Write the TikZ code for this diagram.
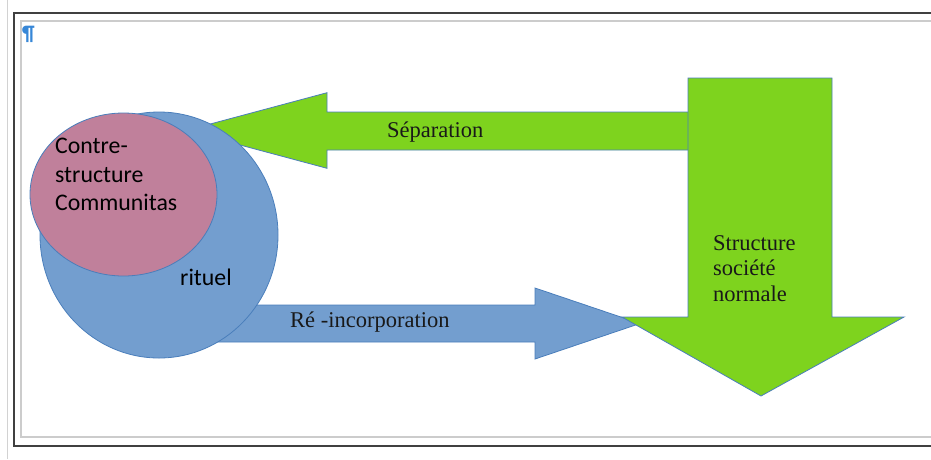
\documentclass[tikz,border=0pt]{standalone}
\usepackage{fontspec}
\setmainfont{Liberation Serif}
\newfontfamily\calib{Carlito}

\definecolor{leafgreen}{RGB}{126,211,30}
\definecolor{ritblue}{RGB}{115,158,207}
\definecolor{compink}{RGB}{192,128,155}
\definecolor{edgeblue}{RGB}{74,126,187}
\definecolor{markblue}{RGB}{55,135,215}

\begin{document}
\begin{tikzpicture}[x=1pt, y=-1pt,
    shapeline/.style={draw=edgeblue, line width=0.8pt, line join=miter},
    sanslbl/.style={inner sep=0pt, font=\calib\fontsize{23.8}{28.5}\selectfont, text=black},
    seriflbl/.style={inner sep=0pt, font=\fontsize{22.5}{25.5}\selectfont, text=black!90}]
  \useasboundingbox (0,0) rectangle (931,459);
  \clip (0,0) rectangle (931,459);
  % frames
  \draw[gray!35, line width=1.2pt] (7.5,0) -- (7.5,459);
  \draw[black!75, line width=2pt] (940,12.5) -- (14,12.5) -- (14,446) -- (940,446);
  \draw[gray!40, line width=1.5pt] (940,21) -- (21,21) -- (21,437) -- (940,437);
  \node[inner sep=0pt, font=\calib\bfseries\fontsize{21}{21}\selectfont, text=markblue] (pilcrow) at (28.5,34) {¶};
  % arrows behind the circles
  \fill[ritblue, shapeline] (200,305) -- (535,305) -- (535,288) -- (640,323.5) -- (535,359) -- (535,342) -- (200,342) -- cycle;
  \fill[leafgreen, shapeline] (186,130.5) -- (327,92.7) -- (327,112) -- (700,112) -- (700,150) -- (327,150) -- (327,168.3) -- cycle;
  % rituel and communitas
  \fill[ritblue, shapeline] (159,235) ellipse [x radius=119, y radius=123];
  \fill[compink, shapeline] (123.5,194.5) ellipse [x radius=93.5, y radius=81.5];
  % structure arrow on top
  \fill[leafgreen, shapeline] (688,78) -- (832,78) -- (832,317) -- (904,317) -- (761,396) -- (622,317) -- (688,317) -- cycle;
  % labels
  \node[sanslbl, anchor=north west, align=left] (contre) at (55,138) {Contre-\\structure\\Communitas};
  \node[sanslbl, anchor=base west] (rituel) at (180,285) {rituel};
  \node[seriflbl, anchor=base west] (separation) at (387,137) {Séparation};
  \node[seriflbl, anchor=base west] (reinc) at (290,327) {Ré -incorporation};
  \node[seriflbl, anchor=north west, align=left] (structure) at (713,235) {Structure\\société\\normale};
\end{tikzpicture}
\end{document}
